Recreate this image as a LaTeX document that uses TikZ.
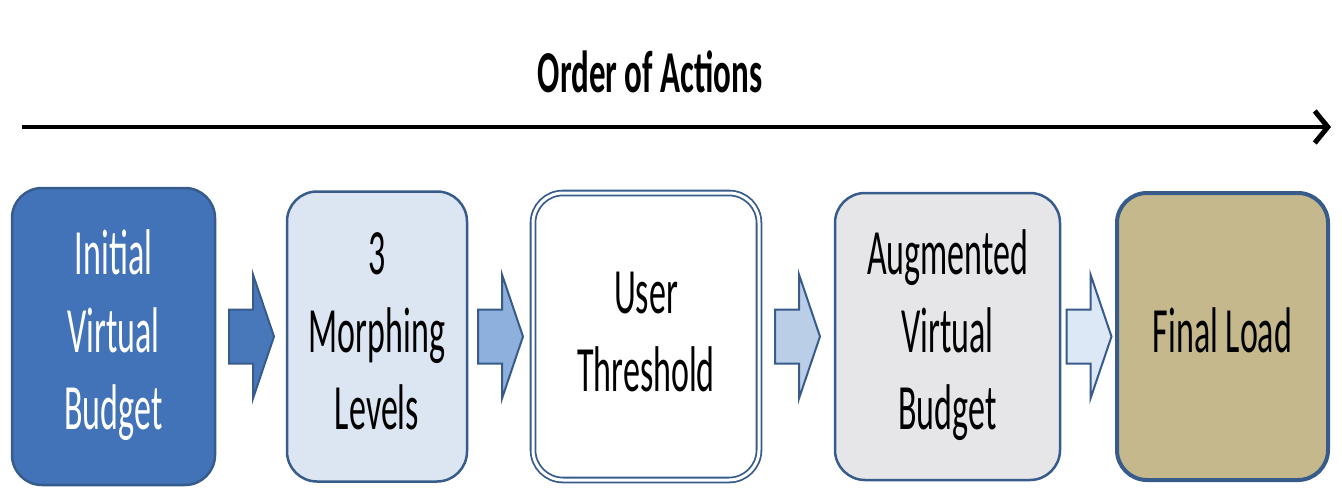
\documentclass[tikz,border=0pt]{standalone}
\usepackage{fontspec}
\setmainfont{Carlito}
\usepackage{graphicx}
\usepackage{tikz}
\usetikzlibrary{arrows.meta,positioning,calc}

\definecolor{edgeblue}{RGB}{55,92,140}
\definecolor{fillone}{RGB}{66,114,183}
\definecolor{filltwo}{RGB}{220,230,242}
\definecolor{fillfour}{RGB}{230,230,232}
\definecolor{fillfive}{RGB}{197,184,141}
\definecolor{arrowone}{RGB}{72,120,186}
\definecolor{arrowtwo}{RGB}{142,176,220}
\definecolor{arrowthree}{RGB}{186,206,231}
\definecolor{arrowfour}{RGB}{221,232,246}

\tikzset{
  stage/.style={draw=edgeblue,line width=2.5pt,rounded corners=30pt,inner sep=0pt,outer sep=0pt,
    font=\fontsize{34}{41}\selectfont},
  flowarrow/.style={draw=edgeblue,line width=2pt,line join=miter}
}
% text of the reference is stretched upwards
\newcommand{\tall}[1]{\scalebox{1}[1.9]{\begin{tabular}{@{}c@{}}#1\end{tabular}}}
% block arrow in the gap between two boxes
\newcommand{\flowbetween}[3]{%
  \draw[flowarrow,fill=#3] let \p1=($(#1.east)!0.5!(#2.west)$) in
    (\x1-22pt,\y1-27pt) -- (\x1+2pt,\y1-27pt) -- (\x1+2pt,\y1-62pt) -- (\x1+23pt,\y1)
    -- (\x1+2pt,\y1+62pt) -- (\x1+2pt,\y1+27pt) -- (\x1-22pt,\y1+27pt) -- cycle;}

\begin{document}
\begin{tikzpicture}[x=1pt,y=-1pt]
  \useasboundingbox (0,0) rectangle (1342,488);

  \node[font=\fontsize{33}{40}\selectfont\bfseries] (title) at (650,72) {\scalebox{1}[1.8]{Order of Actions}};
  \coordinate (axisstart) at (22,127);
  \coordinate (axisend) at (1331,127);
  \draw[line width=4.5pt,-{Straight Barb[length=13pt,width=32pt,line width=5pt]}] (axisstart) -- (axisend);

  \node[stage,fill=fillone,text=white,minimum width=203,minimum height=297] (budget) at (113.5,336.5)
    {\tall{Initial\\Virtual\\Budget}};
  \node[stage,fill=filltwo,minimum width=180,minimum height=290,right=72pt of budget] (morph)
    {\tall{3\\Morphing\\Levels}};
  \node[stage,fill=white,double=white,double distance=3pt,line width=1.8pt,
    minimum width=226,minimum height=287,right=66pt of morph] (thresh)
    {\tall{User\\Threshold}};
  \node[stage,fill=fillfour,minimum width=225,minimum height=287,right=76pt of thresh] (augment)
    {\tall{Augmented\\Virtual\\Budget}};
  \node[stage,fill=fillfive,line width=4pt,minimum width=211,minimum height=287,right=57pt of augment] (final)
    {\tall{Final Load}};

  \flowbetween{budget}{morph}{arrowone}
  \flowbetween{morph}{thresh}{arrowtwo}
  \flowbetween{thresh}{augment}{arrowthree}
  \flowbetween{augment}{final}{arrowfour}
\end{tikzpicture}
\end{document}
